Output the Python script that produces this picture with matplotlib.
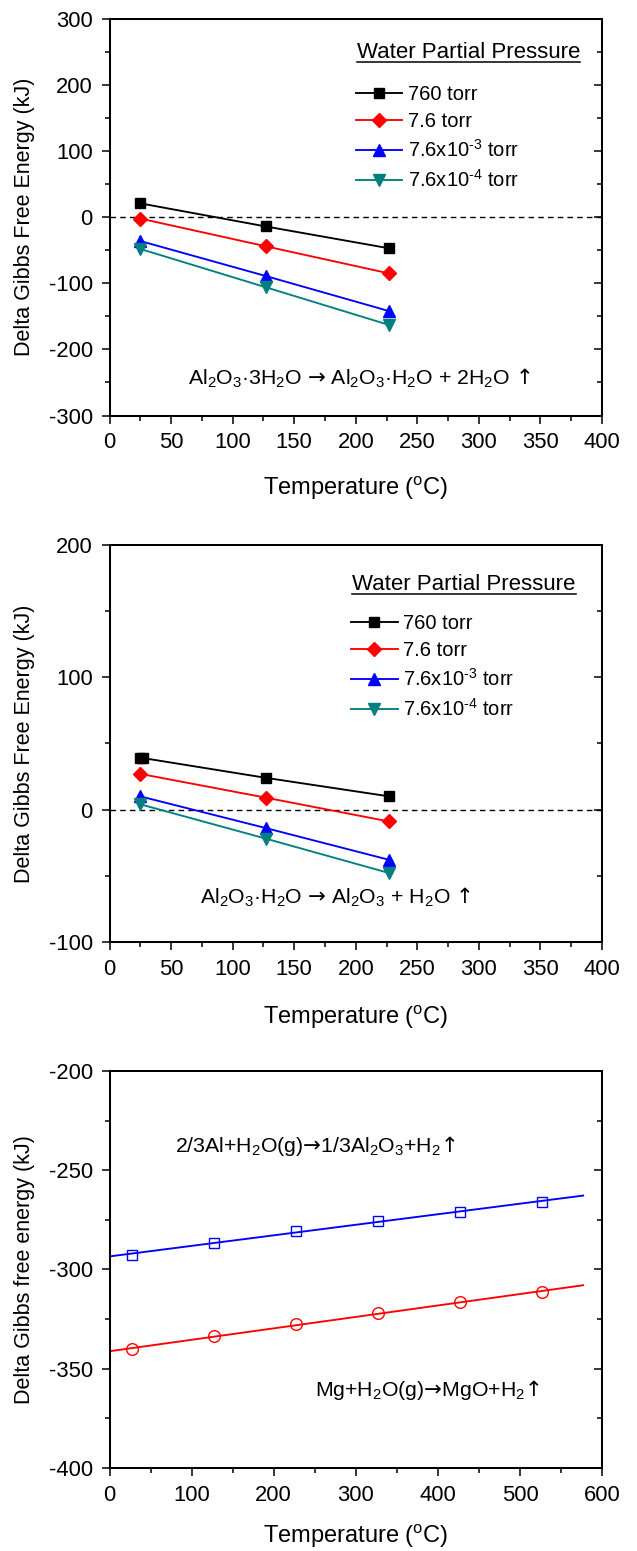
#Description: Gibbs free energy of the hydroxide decomposition and metal-water reactions.

import numpy as np
import matplotlib
matplotlib.use("Agg")
from matplotlib import pyplot as plt
from matplotlib.ticker import MultipleLocator

matplotlib.rcParams.update({
    'font.family': ['Liberation Sans', 'DejaVu Sans'],
    'font.size': 15.8,
    'mathtext.fontset': 'custom',
    'mathtext.rm': 'Liberation Sans',
    'mathtext.it': 'Liberation Sans:italic',
    'mathtext.bf': 'Liberation Sans:bold',
    'mathtext.sf': 'DejaVu Sans',   # only used for the arrows
    'mathtext.default': 'rm',
    'axes.unicode_minus': False,
})

# -----------------------------------------------------------#
#                    Data
# -----------------------------------------------------------#
# Al2O3.3H2O -> Al2O3.H2O + 2H2O
T_tri = [25, 127, 227]
G_tri_760 = [21, -14, -47]
G_tri_7p6 = [-2, -44, -85]
G_tri_e3 = [-36, -89, -142]
G_tri_e4 = [-48, -106, -163]

# Al2O3.H2O -> Al2O3 + H2O
T_mono_760 = [25, 27, 127, 227]
G_mono_760 = [39, 39, 24, 10]
T_mono = [25, 127, 227]
G_mono_7p6 = [27, 9, -9]
G_mono_e3 = [10, -14, -38]
G_mono_e4 = [4, -22, -48]

# metal + steam
T_metal = [27, 127, 227, 327, 427, 527]
G_Al = [-292.6, -286.6, -280.8, -275.6, -270.8, -265.9]
G_Mg = [-340.2, -333.8, -327.7, -322.2, -316.5, -311.3]
T_fit = [0, 577]

labels = ['760 torr', '7.6 torr', '7.6x10$^{\\text{-3}}$ torr', '7.6x10$^{\\text{-4}}$ torr']
colors = ['black', '#FF0000', '#0000FF', '#008080']
markers = ['s', 'D', '^', 'v']
msizes = [6.8, 7.0, 8.3, 8.3]

ylab_top = 'Delta Gibbs Free Energy (kJ)'
ylab_bot = 'Delta Gibbs free energy (kJ)'
xlab = 'Temperature ($^{\\rm o}$C)'
RA = '$\\mathsf{\u2192}$'   # right arrow
UA = '$\\mathsf{\u2191}$'   # up arrow


def style_axes(ax, xmax, xmaj, xmin, ylo, yhi, ymaj, ymin):
    ax.set_xlim(0, xmax)
    ax.set_ylim(ylo, yhi)
    ax.xaxis.set_major_locator(MultipleLocator(xmaj))
    ax.xaxis.set_minor_locator(MultipleLocator(xmin))
    ax.yaxis.set_major_locator(MultipleLocator(ymaj))
    ax.yaxis.set_minor_locator(MultipleLocator(ymin))
    ax.tick_params(which='both', direction='out', top=False, right=False, width=1.1)
    ax.tick_params(which='major', length=5.8)
    ax.tick_params(which='minor', length=3.3)
    ax.tick_params(axis='x', pad=6.3)
    ax.tick_params(axis='y', pad=6.3)
    for s in ax.spines.values():
        s.set_linewidth(1.45)
    # mirrored ticks on the right point inwards
    axr = ax.twinx()
    axr.set_ylim(ylo, yhi)
    axr.yaxis.set_major_locator(MultipleLocator(ymaj))
    axr.yaxis.set_minor_locator(MultipleLocator(ymin))
    axr.tick_params(which='both', direction='in', labelright=False, width=1.1)
    axr.tick_params(which='major', length=5.7)
    axr.tick_params(which='minor', length=3.3)
    for s in axr.spines.values():
        s.set_linewidth(1.45)


def water_legend(ax, tx, ty, lx, ly):
    t = ax.text(tx, ty, 'Water Partial Pressure', transform=ax.transAxes,
                ha='center', va='baseline', fontsize=16)
    ax.legend(loc='upper left', bbox_to_anchor=(lx, ly), frameon=False, fontsize=14.5,
              handlelength=2.3, handletextpad=0.29, labelspacing=0.4,
              borderpad=0, borderaxespad=0, numpoints=1)
    return t


fig = plt.figure(figsize=(6.37, 15.51), dpi=100)
ax1 = fig.add_axes([0.1719, 0.7321, 0.7732, 0.2557])
ax2 = fig.add_axes([0.1719, 0.3928, 0.7732, 0.2557])
ax3 = fig.add_axes([0.1719, 0.0537, 0.7732, 0.2557])

# -----------------------------------------------------------#
#                    Top: gibbsite -> boehmite
# -----------------------------------------------------------#
ax1.axhline(0, color='black', lw=1, ls=(0, (4, 3)))
for G, lab, c, m, ms in zip([G_tri_760, G_tri_7p6, G_tri_e3, G_tri_e4], labels, colors, markers, msizes):
    ax1.plot(T_tri, G, '-', marker=m, ms=ms, color=c, lw=1.35, label=lab)
style_axes(ax1, 400, 50, 25, -300, 300, 100, 50)
ax1.set_ylabel(ylab_top, fontsize=15.5)
ax1.yaxis.set_label_coords(-0.151, 0.5)
ax1.set_xlabel(xlab, fontsize=17)
ax1.xaxis.set_label_coords(0.5, -0.150)
t1 = water_legend(ax1, 0.729, 0.901, 0.5, 0.833)
ax1.text(0.507, 0.077, 'Al$_2$O$_3$\u00b73H$_2$O ' + RA + ' Al$_2$O$_3$\u00b7H$_2$O + 2H$_2$O ' + UA,
         transform=ax1.transAxes, ha='center', va='baseline', fontsize=15.3)

# -----------------------------------------------------------#
#                    Middle: boehmite -> alumina
# -----------------------------------------------------------#
ax2.axhline(0, color='black', lw=1, ls=(0, (4, 3)))
T_sets = [T_mono_760, T_mono, T_mono, T_mono]
for T, G, lab, c, m, ms in zip(T_sets, [G_mono_760, G_mono_7p6, G_mono_e3, G_mono_e4], labels, colors, markers, msizes):
    ax2.plot(T, G, '-', marker=m, ms=ms, color=c, lw=1.35, label=lab)
style_axes(ax2, 400, 50, 25, -100, 200, 100, 50)
ax2.set_ylabel(ylab_top, fontsize=15.5)
ax2.yaxis.set_label_coords(-0.151, 0.5)
ax2.set_xlabel(xlab, fontsize=17)
ax2.xaxis.set_label_coords(0.5, -0.157)
t2 = water_legend(ax2, 0.72, 0.887, 0.491, 0.827)
ax2.text(0.459, 0.097, 'Al$_2$O$_3$\u00b7H$_2$O ' + RA + ' Al$_2$O$_3$ + H$_2$O ' + UA,
         transform=ax2.transAxes, ha='center', va='baseline', fontsize=15.3)

# -----------------------------------------------------------#
#                    Bottom: Al and Mg with steam
# -----------------------------------------------------------#
for G, c, m, ms in [(G_Al, '#0000FF', 's', 7.5), (G_Mg, '#FF0000', 'o', 8.4)]:
    ax3.plot(T_metal, G, ls='none', marker=m, ms=ms, mfc='none', mec=c, mew=1.0)
    k = np.polyfit(T_metal, G, 1)
    ax3.plot(T_fit, np.polyval(k, T_fit), '-', color=c, lw=1.35)
style_axes(ax3, 600, 100, 50, -400, -200, 50, 25)
ax3.set_ylabel(ylab_bot, fontsize=15.5)
ax3.yaxis.set_label_coords(-0.151, 0.5)
ax3.set_xlabel(xlab, fontsize=17)
ax3.xaxis.set_label_coords(0.5, -0.139)
ax3.text(0.132, 0.797, '2/3Al+H$_2$O(g)' + RA + '1/3Al$_2$O$_3$+H$_2$' + UA,
         transform=ax3.transAxes, ha='left', va='baseline', fontsize=15.3)
ax3.text(0.417, 0.181, 'Mg+H$_2$O(g)' + RA + 'MgO+H$_2$' + UA,
         transform=ax3.transAxes, ha='left', va='baseline', fontsize=15.3)

# underline the legend titles
fig.canvas.draw()
for ax, t in [(ax1, t1), (ax2, t2)]:
    bb = t.get_window_extent().transformed(ax.transAxes.inverted())
    ax.plot([bb.x0, bb.x1], [bb.y0 + 0.002, bb.y0 + 0.002], transform=ax.transAxes,
            color='black', lw=1.1, clip_on=False)

fig.savefig('out.png', dpi=100)
